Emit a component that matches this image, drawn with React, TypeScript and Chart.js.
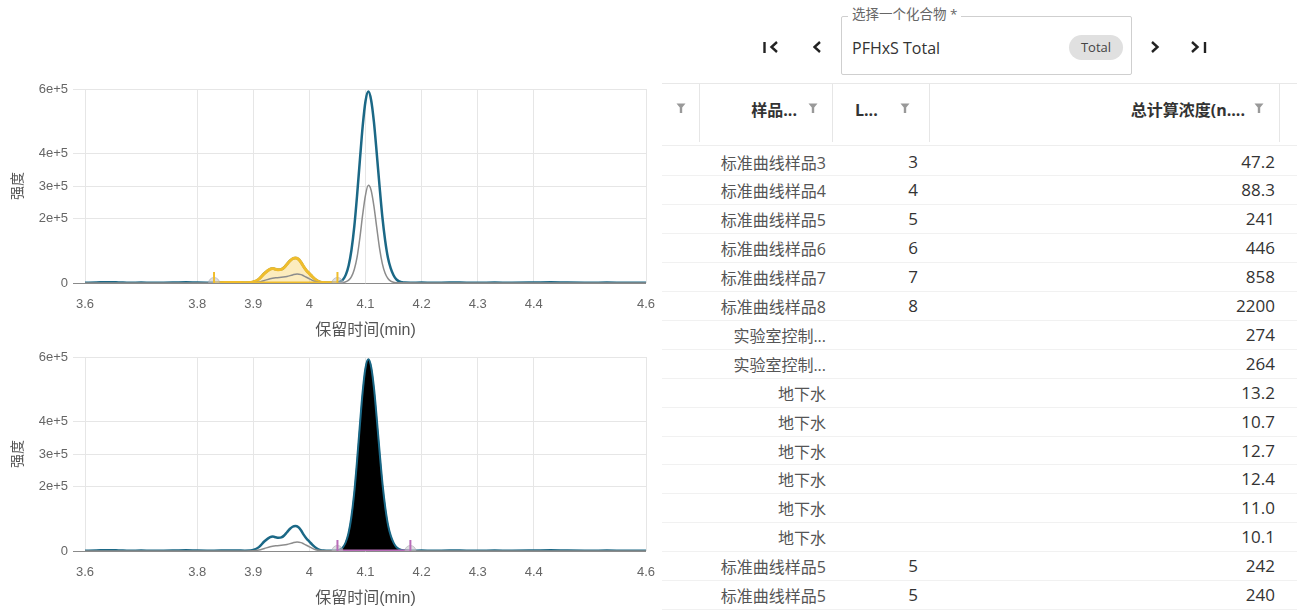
import React, { useEffect, useRef } from "react";
import { Chart, registerables } from "chart.js";

Chart.register(...registerables);

// ---------- chromatogram data ----------
const RT_TEAL = [
  3.6, 3.62, 3.64, 3.66, 3.68, 3.7, 3.72, 3.74, 3.76, 3.78, 3.8, 3.83, 3.85, 3.87, 3.885, 3.895,
  3.9, 3.91, 3.92, 3.93, 3.935, 3.94, 3.945, 3.95, 3.955, 3.96, 3.965, 3.97, 3.975, 3.98, 3.985,
  3.99, 3.995, 4.0, 4.005, 4.01, 4.015, 4.02, 4.025, 4.03, 4.04, 4.05, 4.055, 4.06, 4.065, 4.07,
  4.075, 4.08, 4.085, 4.09, 4.095, 4.1, 4.105, 4.11, 4.115, 4.12, 4.125, 4.13, 4.135, 4.14, 4.145,
  4.15, 4.155, 4.16, 4.165, 4.17, 4.18, 4.2, 4.22, 4.25, 4.28, 4.3, 4.33, 4.36, 4.4, 4.43, 4.46, 4.5,
  4.53, 4.56, 4.6,
];
const INT_TEAL = [
  800, 1500, 2600, 1900, 900, 1200, 700, 1000, 1600, 2300, 1500, 900, 1400, 1800, 1000, 1500,
  3000, 12000, 30000, 43000, 44500, 42500, 41000, 42000, 48000, 58000, 68000, 75000, 77000, 74000, 64000,
  50000, 38000, 29000, 20000, 12000, 6000, 2800, 1300, 800, 700, 1800, 4500, 11000, 26000, 54000,
  102000, 174000, 271000, 380000, 485000, 562000, 592000, 566000, 498000, 402000, 300000, 205000, 132000, 78000, 45000,
  24000, 11000, 5000, 2500, 1300, 800, 1300, 800, 1500, 1000, 800, 1200, 900, 1400, 2000, 1200, 900,
  1300, 800, 500,
];
const RT_GREY = [
  3.6, 3.7, 3.8, 3.88, 3.9, 3.91, 3.92, 3.93, 3.94, 3.95, 3.96, 3.97, 3.978, 3.985, 3.99, 4.0,
  4.01, 4.02, 4.03, 4.05, 4.06, 4.065, 4.07, 4.075, 4.08, 4.085, 4.09, 4.095, 4.1, 4.105, 4.11,
  4.115, 4.12, 4.125, 4.13, 4.135, 4.14, 4.145, 4.15, 4.16, 4.2, 4.4, 4.6,
];
const INT_GREY = [
  300, 300, 300, 300, 800, 3000, 8000, 13000, 16000, 18000, 20000, 25000, 28000, 26000, 22000, 13000,
  4500, 1200, 400, 400, 1500, 4000, 9000, 20000, 42000, 80000, 140000, 212000, 272000, 302000, 287000,
  238000, 172000, 108000, 60000, 30000, 14000, 6000, 2500, 700, 300, 300, 300,
];

const X_TICKS = [3.6, 3.8, 3.9, 4, 4.1, 4.2, 4.3, 4.4, 4.6];
const X_TICK_LABELS = ["3.6", "3.8", "3.9", "4", "4.1", "4.2", "4.3", "4.4", "4.6"];
const Y_TICKS = [0, 200000, 300000, 400000, 600000];
const Y_TICK_LABELS = ["0", "2e+5", "3e+5", "4e+5", "6e+5"];

const YELLOW_RANGE = [3.83, 4.05];
const BLACK_RANGE = [4.05, 4.18];
const MARKER_TOP = 34000;

// ---------- table data ----------
const SAMPLE_NAMES = [
  "标准曲线样品3", "标准曲线样品4", "标准曲线样品5", "标准曲线样品6", "标准曲线样品7", "标准曲线样品8",
  "实验室控制...", "实验室控制...", "地下水", "地下水", "地下水", "地下水", "地下水", "地下水",
  "标准曲线样品5", "标准曲线样品5",
];
const LEVELS = ["3", "4", "5", "6", "7", "8", "", "", "", "", "", "", "", "", "5", "5"];
const CONCENTRATIONS = [
  "47.2", "88.3", "241", "446", "858", "2200", "274", "264", "13.2", "10.7", "12.7", "12.4", "11.0",
  "10.1", "242", "240",
];

const TEAL = "#1b6886";
const GREY = "#8c8c8c";
const YELLOW = "#f0bd2c";
const PURPLE = "#b86cb8";
const CIRCLE_FILL = "rgba(195,195,200,0.55)";
const CIRCLE_BORDER = "rgba(170,170,175,0.6)";
const FONT_FAMILY = "'Liberation Sans', 'Noto Sans CJK SC', sans-serif";

const pts = (xs: number[], ys: number[]) => xs.map((x, i) => ({ x, y: ys[i] }));
const seg = (xs: number[], ys: number[], lo: number, hi: number) =>
  pts(xs, ys).filter((p) => p.x >= lo - 1e-9 && p.x <= hi + 1e-9);

function lineDs(data: any[], color: string, width: number, extra: any = {}) {
  return {
    data,
    borderColor: color,
    borderWidth: width,
    pointRadius: 0,
    fill: false,
    cubicInterpolationMode: "monotone",
    ...extra,
  };
}

function markerDatasets(range: number[], color: string) {
  return [
    lineDs([{ x: range[0], y: 0 }, { x: range[0], y: MARKER_TOP }], color, 2, { tension: 0, cubicInterpolationMode: "default" }),
    lineDs([{ x: range[1], y: 0 }, { x: range[1], y: MARKER_TOP }], color, 2, { tension: 0, cubicInterpolationMode: "default" }),
  ];
}

function circleDataset(range: number[]) {
  return {
    data: [{ x: range[0], y: 0 }, { x: range[1], y: 0 }],
    showLine: false,
    pointRadius: 5.5,
    pointBackgroundColor: CIRCLE_FILL,
    pointBorderColor: CIRCLE_BORDER,
    pointBorderWidth: 1,
  };
}

function buildConfig(kind: "yellow" | "black"): any {
  const teal = lineDs(pts(RT_TEAL, INT_TEAL), TEAL, 2.5);
  const grey = lineDs(pts(RT_GREY, INT_GREY), GREY, 1.5);
  let datasets: any[];
  if (kind === "yellow") {
    datasets = [
      ...markerDatasets(YELLOW_RANGE, YELLOW),
      circleDataset(YELLOW_RANGE),
      lineDs([{ x: YELLOW_RANGE[0], y: 0 }, { x: YELLOW_RANGE[1], y: 0 }], YELLOW, 3, { tension: 0, cubicInterpolationMode: "default" }),
      grey,
      lineDs(seg(RT_TEAL, INT_TEAL, YELLOW_RANGE[0], YELLOW_RANGE[1]), YELLOW, 3, {
        fill: "origin",
        backgroundColor: "rgba(247,210,100,0.42)",
      }),
      teal,
    ];
  } else {
    datasets = [
      ...markerDatasets(BLACK_RANGE, PURPLE),
      circleDataset(BLACK_RANGE),
      lineDs([{ x: BLACK_RANGE[0], y: 0 }, { x: BLACK_RANGE[1], y: 0 }], PURPLE, 3, { tension: 0, cubicInterpolationMode: "default" }),
      lineDs(seg(RT_TEAL, INT_TEAL, BLACK_RANGE[0], BLACK_RANGE[1]), TEAL, 1.5, {
        fill: "origin",
        backgroundColor: "#000000",
      }),
      grey,
      teal,
    ];
  }
  return {
    type: "line",
    data: { datasets },
    options: {
      animation: false,
      responsive: false,
      events: [],
      layout: { padding: { left: 0, right: 14, top: 14, bottom: 0 } },
      plugins: { legend: { display: false }, tooltip: { enabled: false } },
      scales: {
        x: {
          type: "linear",
          min: 3.6,
          max: 4.6,
          afterBuildTicks: (s: any) => {
            s.ticks = X_TICKS.map((v) => ({ value: v }));
          },
          afterFit: (s: any) => {
            s.height = 57;
          },
          ticks: {
            autoSkip: false,
            maxRotation: 0,
            padding: 0,
            color: "#666",
            font: { size: 13, family: FONT_FAMILY },
            callback: (_v: any, i: number) => X_TICK_LABELS[i],
          },
          grid: { color: "#e6e6e6", drawTicks: true, tickLength: 14, tickColor: "rgba(0,0,0,0)" },
          border: { display: false },
          title: {
            display: true,
            text: "保留时间(min)",
            color: "#555",
            font: { size: 16, family: FONT_FAMILY },
            padding: { top: 2, bottom: 0 },
          },
        },
        y: {
          type: "linear",
          min: 0,
          max: 600000,
          afterBuildTicks: (s: any) => {
            s.ticks = Y_TICKS.map((v) => ({ value: v }));
          },
          afterFit: (s: any) => {
            s.width = 85;
          },
          ticks: {
            padding: 5,
            color: "#666",
            font: { size: 13, family: FONT_FAMILY },
            callback: (_v: any, i: number) => Y_TICK_LABELS[i],
          },
          grid: {
            color: (ctx: any) => (ctx.tick && ctx.tick.value === 0 ? "#8a8a8a" : "#e6e6e6"),
            drawTicks: true,
            tickLength: 12,
          },
          border: { display: false },
          title: {
            display: true,
            text: "强度",
            color: "#555",
            font: { size: 14, family: FONT_FAMILY },
            padding: { top: 10, bottom: 0 },
          },
        },
      },
    },
  };
}

function ChromChart({ kind, top }: { kind: "yellow" | "black"; top: number }) {
  const ref = useRef<HTMLCanvasElement>(null);
  useEffect(() => {
    const chart = new Chart(ref.current as HTMLCanvasElement, buildConfig(kind));
    return () => chart.destroy();
  }, [kind]);
  return (
    <canvas
      ref={ref}
      width={660}
      height={265}
      style={{ position: "absolute", left: 0, top, width: 660, height: 265 }}
    />
  );
}

// ---------- right panel ----------
const UI_FONT = "'Open Sans', 'Noto Sans CJK SC', sans-serif";

function Chevron({ x, y, dir, bar }: { x: number; y: number; dir: "l" | "r"; bar?: boolean }) {
  const w = 8;
  const h = 12;
  const p = dir === "l" ? `${w - 1},1 1.5,${h / 2} ${w - 1},${h - 1}` : `1,1 ${w - 1.5},${h / 2} 1,${h - 1}`;
  return (
    <svg style={{ position: "absolute", left: x, top: y }} width={bar ? 18 : 10} height={h + 2}>
      {bar && dir === "l" && <line x1={1.5} y1={1} x2={1.5} y2={h} stroke="#222" strokeWidth={2.4} />}
      <g transform={bar && dir === "l" ? "translate(7,0)" : ""}>
        <polyline points={p} fill="none" stroke="#222" strokeWidth={2.4} strokeLinejoin="miter" />
      </g>
      {bar && dir === "r" && <line x1={14} y1={1} x2={14} y2={h} stroke="#222" strokeWidth={2.4} />}
    </svg>
  );
}

function Funnel({ cx, cy }: { cx: number; cy: number }) {
  return (
    <svg style={{ position: "absolute", left: cx - 5, top: cy - 5 }} width={10} height={11}>
      <polygon points="0.5,0.5 9.5,0.5 6.2,4.5 6.2,10 3.8,10 3.8,4.5" fill="#999" />
    </svg>
  );
}

function RightPanel() {
  const rowTop = 146.5;
  const rowH = 28.9;
  const headerText: React.CSSProperties = {
    position: "absolute",
    top: 99,
    fontFamily: UI_FONT,
    fontWeight: 700,
    fontSize: 16,
    color: "#333",
    lineHeight: "22px",
    whiteSpace: "nowrap",
  };
  return (
    <div>
      {/* navigation */}
      <Chevron x={763} y={41} dir="l" bar />
      <Chevron x={813} y={41} dir="l" />
      <Chevron x={1151} y={41} dir="r" />
      <Chevron x={1191} y={41} dir="r" bar />
      {/* compound selector */}
      <div
        style={{
          position: "absolute",
          left: 841,
          top: 16,
          width: 289,
          height: 57,
          border: "1px solid #cfcfcf",
          borderRadius: 2,
        }}
      />
      <div
        style={{
          position: "absolute",
          left: 848,
          top: 6,
          padding: "0 4px",
          background: "#fff",
          fontFamily: UI_FONT,
          fontSize: 13.5,
          color: "#666",
          lineHeight: "17px",
          whiteSpace: "nowrap",
        }}
      >
        选择一个化合物 *
      </div>
      <div
        style={{
          position: "absolute",
          left: 852,
          top: 37,
          fontFamily: UI_FONT,
          fontSize: 16,
          color: "#333",
          lineHeight: "22px",
          whiteSpace: "nowrap",
        }}
      >
        PFHxS Total
      </div>
      <div
        style={{
          position: "absolute",
          left: 1069,
          top: 35,
          width: 54,
          height: 25,
          borderRadius: 13,
          background: "#e0e0e0",
          fontFamily: UI_FONT,
          fontSize: 13,
          color: "#444",
          lineHeight: "25px",
          textAlign: "center",
        }}
      >
        Total
      </div>
      {/* table header */}
      <div style={{ position: "absolute", left: 662, top: 83, width: 635, height: 1, background: "#e8e8e8" }} />
      {[699, 832, 929, 1279].map((x) => (
        <div key={x} style={{ position: "absolute", left: x, top: 84, width: 1, height: 58, background: "#e6e6e6" }} />
      ))}
      <div style={{ position: "absolute", left: 662, top: 145, width: 635, height: 1, background: "#eeeeee" }} />
      <Funnel cx={681} cy={108} />
      <div style={{ ...headerText, left: 699, width: 98, textAlign: "right" }}>样品...</div>
      <Funnel cx={813} cy={108} />
      <div style={{ ...headerText, left: 855 }}>L...</div>
      <Funnel cx={905} cy={108} />
      <div style={{ ...headerText, left: 929, width: 316, textAlign: "right" }}>总计算浓度(n....</div>
      <Funnel cx={1259} cy={108} />
      {/* rows */}
      {SAMPLE_NAMES.map((name, i) => {
        const top = rowTop + i * rowH;
        return (
          <div key={i}>
            <div
              style={{
                position: "absolute",
                left: 690,
                top: top + 4,
                width: 136,
                textAlign: "right",
                fontFamily: UI_FONT,
                fontSize: 16,
                color: "#555",
                lineHeight: "24px",
                whiteSpace: "nowrap",
              }}
            >
              {name}
            </div>
            <div
              style={{
                position: "absolute",
                left: 832,
                top: top + 3,
                width: 86,
                textAlign: "right",
                fontFamily: UI_FONT,
                fontSize: 17,
                color: "#333",
                lineHeight: "24px",
              }}
            >
              {LEVELS[i]}
            </div>
            <div
              style={{
                position: "absolute",
                left: 929,
                top: top + 3,
                width: 346,
                textAlign: "right",
                fontFamily: UI_FONT,
                fontSize: 17,
                color: "#333",
                lineHeight: "24px",
              }}
            >
              {CONCENTRATIONS[i]}
            </div>
            <div
              style={{
                position: "absolute",
                left: 662,
                top: top + rowH,
                width: 635,
                height: 1,
                background: "#f1f1f1",
              }}
            />
          </div>
        );
      })}
    </div>
  );
}

export default function App() {
  return (
    <div
      style={{
        position: "fixed",
        left: 0,
        top: 0,
        width: 1297,
        height: 610,
        background: "#fff",
        overflow: "hidden",
      }}
    >
      <ChromChart kind="yellow" top={75} />
      <ChromChart kind="black" top={343} />
      <RightPanel />
    </div>
  );
}
